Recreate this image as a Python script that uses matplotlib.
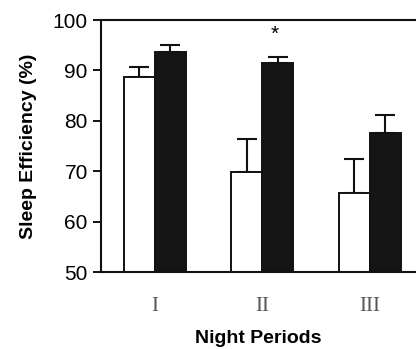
import numpy as np
import matplotlib
matplotlib.use("Agg")
import matplotlib.pyplot as plt

periods = ["I", "II", "III"]
white_vals = [88.6, 69.9, 65.6]
white_err = [2.1, 6.4, 6.9]
black_vals = [93.7, 91.5, 77.6]
black_err = [1.3, 1.1, 3.6]
star_group = 1
star_y = 97.2

plt.rcParams.update({
    "font.family": ["Liberation Sans", "DejaVu Sans"],
})

fig = plt.figure(figsize=(4.16, 3.49), dpi=100)
ax = fig.add_axes([101 / 416, 77 / 349, 315 / 416, 252 / 349])

x = np.arange(len(periods))
w = 0.29

ax.bar(x - w / 2, white_vals, w, color="white", edgecolor="#111111",
       linewidth=1.4, zorder=2)
ax.bar(x + w / 2, black_vals, w, color="#151515", edgecolor="#111111",
       linewidth=1.4, zorder=2)
ax.errorbar(x - w / 2, white_vals, yerr=[np.zeros(3), white_err], fmt="none",
            ecolor="#111111", elinewidth=1.5, capsize=7, capthick=1.5, zorder=1)
ax.errorbar(x + w / 2, black_vals, yerr=[np.zeros(3), black_err], fmt="none",
            ecolor="#111111", elinewidth=1.5, capsize=7, capthick=1.5, zorder=1)

ax.text(x[star_group] + 0.12, star_y, "*", ha="center", va="center", fontsize=15)

ax.set_xlim(-0.5, 2.43)
ax.set_ylim(50, 100)
ax.set_yticks([50, 60, 70, 80, 90, 100])
ax.tick_params(axis="y", labelsize=15, width=1.4, length=6, color="#111111")
ax.set_xticks(x)
ax.set_xticklabels(periods, family=["Liberation Serif", "DejaVu Serif"],
                   fontsize=15, color="#555555")
ax.tick_params(axis="x", length=0, pad=18)

ax.spines["right"].set_visible(False)
for s in ["left", "top", "bottom"]:
    ax.spines[s].set_linewidth(1.5)
    ax.spines[s].set_color("#111111")

ax.set_ylabel("Sleep Efficiency (%)", fontsize=14, fontweight="bold", labelpad=11)
ax.set_xlabel("Night Periods", fontsize=14, fontweight="bold", labelpad=10)

fig.savefig("out.png", dpi=100)
